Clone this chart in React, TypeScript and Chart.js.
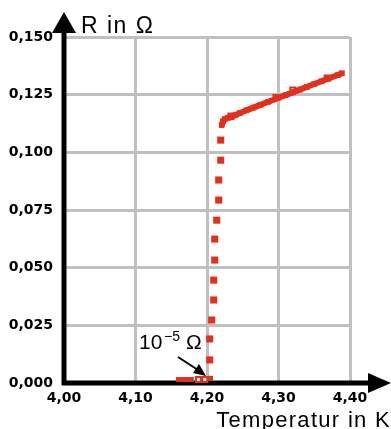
import React, { useEffect, useRef } from 'react';
import { Chart, registerables } from 'chart.js';

Chart.register(...registerables);

const RED = '#e0301e';

const xTicks = [4.0, 4.1, 4.2, 4.3, 4.4];
const yTicks = [0, 0.025, 0.05, 0.075, 0.1, 0.125, 0.15];

// normal-conducting branch (above Tc)
const upperT = [4.2206, 4.2225, 4.2248, 4.229, 4.2346, 4.24, 4.2458, 4.255, 4.265, 4.275, 4.285, 4.299, 4.31, 4.32, 4.33, 4.34, 4.35, 4.36, 4.37, 4.383, 4.3887];
const upperR = [0.1118, 0.1135, 0.1144, 0.115, 0.1153, 0.1162, 0.117, 0.1182, 0.1194, 0.1206, 0.1218, 0.1235, 0.1248, 0.126, 0.1272, 0.1284, 0.1296, 0.1308, 0.132, 0.1335, 0.1343];

// transition (sharp drop)
const dropT = [4.2192, 4.2192, 4.2164, 4.2164, 4.2136, 4.2108, 4.2108, 4.2094, 4.2094, 4.2066, 4.2038, 4.2038];
const dropR = [0.1053, 0.0966, 0.088, 0.0793, 0.0706, 0.0624, 0.0533, 0.0446, 0.036, 0.0273, 0.0191, 0.01];

// superconducting (~10^-5 Ohm)
const baseT = [4.16, 4.166, 4.172, 4.178, 4.205];
const baseR = [0.0015, 0.0015, 0.0015, 0.0015, 0.002];

// open markers
const hollowT = [4.2335, 4.188, 4.197, 4.2965, 4.32, 4.368];
const hollowR = [0.1158, 0.0015, 0.0015, 0.1238, 0.127, 0.1322];

const pts = (xs: number[], ys: number[]) => xs.map((x, i) => ({ x, y: ys[i] }));

const FONT = '"Liberation Sans", Arial, sans-serif';
const TICKFONT = { family: '"DejaVu Sans", sans-serif', size: 14, weight: 'bold' as const };

const decor = {
  id: 'decor',
  beforeDatasetsDraw(chart: any) {
    const { ctx, chartArea } = chart;
    const l = chartArea.left, b = chartArea.bottom;
    ctx.save();
    ctx.strokeStyle = '#000';
    ctx.fillStyle = '#000';
    ctx.lineWidth = 5;
    // y axis
    ctx.beginPath();
    ctx.moveTo(l, b + 2);
    ctx.lineTo(l, 30);
    ctx.stroke();
    ctx.beginPath();
    ctx.moveTo(l, 12);
    ctx.lineTo(l - 12, 33);
    ctx.lineTo(l + 12, 33);
    ctx.closePath();
    ctx.fill();
    // x axis
    ctx.beginPath();
    ctx.moveTo(l - 2, b);
    ctx.lineTo(372, b);
    ctx.stroke();
    ctx.beginPath();
    ctx.moveTo(391, b);
    ctx.lineTo(368, b - 10);
    ctx.lineTo(368, b + 10);
    ctx.closePath();
    ctx.fill();
    ctx.restore();
  },
  afterDraw(chart: any) {
    const { ctx } = chart;
    ctx.save();
    ctx.fillStyle = '#000';
    ctx.textBaseline = 'alphabetic';
    ctx.textAlign = 'left';
    ctx.font = `23px ${FONT}`;
    ctx.letterSpacing = '1.5px';
    ctx.fillText('R in Ω', 81, 33);
    ctx.font = `22px ${FONT}`;
    ctx.letterSpacing = '1.3px';
    ctx.textAlign = 'right';
    ctx.fillText('Temperatur in K', 391, 427);
    // annotation
    ctx.letterSpacing = '0px';
    ctx.textAlign = 'left';
    ctx.font = `21px ${FONT}`;
    ctx.fillText('10', 139, 349);
    ctx.font = `14px ${FONT}`;
    ctx.fillText('−5', 164, 341);
    ctx.font = `21px ${FONT}`;
    ctx.fillText('Ω', 186, 349);
    // arrow
    ctx.strokeStyle = '#000';
    ctx.lineWidth = 2;
    ctx.beginPath();
    ctx.moveTo(178, 357);
    ctx.lineTo(198, 370);
    ctx.stroke();
    ctx.beginPath();
    ctx.moveTo(206, 376);
    ctx.lineTo(193, 373);
    ctx.lineTo(199, 364);
    ctx.closePath();
    ctx.fill();
    ctx.restore();
  },
};

export default function App() {
  const ref = useRef<HTMLCanvasElement | null>(null);
  useEffect(() => {
    if (!ref.current) return;
    const chart = new Chart(ref.current, {
      type: 'scatter',
      data: {
        datasets: [
          {
            data: pts(upperT, upperR),
            showLine: true,
            borderColor: RED,
            borderWidth: 6,
            backgroundColor: RED,
            pointStyle: 'rect',
            pointRadius: 4,
            pointBorderWidth: 0,
          },
          {
            data: pts(dropT, dropR),
            showLine: false,
            backgroundColor: RED,
            borderColor: RED,
            pointStyle: 'rect',
            pointRadius: 5,
            pointBorderWidth: 0,
          },
          {
            data: pts(baseT, baseR),
            showLine: false,
            backgroundColor: RED,
            borderColor: RED,
            pointStyle: 'rect',
            pointRadius: 3.5,
            pointBorderWidth: 0,
          },
          {
            data: pts(hollowT, hollowR),
            showLine: false,
            backgroundColor: '#ffffff',
            borderColor: RED,
            pointStyle: 'rect',
            pointRadius: 3.5,
            pointBorderWidth: 2,
          },
        ],
      },
      options: {
        animation: false,
        responsive: false,
        maintainAspectRatio: false,
        layout: { padding: { top: 37, right: 41, left: 0, bottom: 0 } },
        plugins: { legend: { display: false }, tooltip: { enabled: false } },
        scales: {
          x: {
            type: 'linear',
            min: 4.0,
            max: 4.4,
            afterBuildTicks: (s: any) => { s.ticks = xTicks.map((v) => ({ value: v })); },
            afterFit: (s: any) => { s.height = 46; },
            border: { display: false },
            grid: { color: '#c0c0c0', lineWidth: 3, drawTicks: false },
            ticks: {
              padding: 7,
              color: '#000',
              maxRotation: 0,
              autoSkip: false,
              font: TICKFONT,
              callback: (v: any) => Number(v).toFixed(2).replace('.', ','),
            },
          },
          y: {
            type: 'linear',
            min: 0,
            max: 0.15,
            afterBuildTicks: (s: any) => { s.ticks = yTicks.map((v) => ({ value: v })); },
            afterFit: (s: any) => { s.width = 64; },
            border: { display: false },
            grid: { color: '#c0c0c0', lineWidth: 3, drawTicks: false },
            ticks: {
              padding: 11,
              color: '#000',
              autoSkip: false,
              font: TICKFONT,
              callback: (v: any) => Number(v).toFixed(3).replace('.', ','),
            },
          },
        },
      },
      plugins: [decor],
    });
    return () => chart.destroy();
  }, []);
  return (
    <div style={{ position: 'absolute', left: 0, top: 0, width: 391, height: 429, background: '#fff' }}>
      <canvas ref={ref} width={391} height={429} style={{ width: 391, height: 429, display: 'block' }} />
    </div>
  );
}
